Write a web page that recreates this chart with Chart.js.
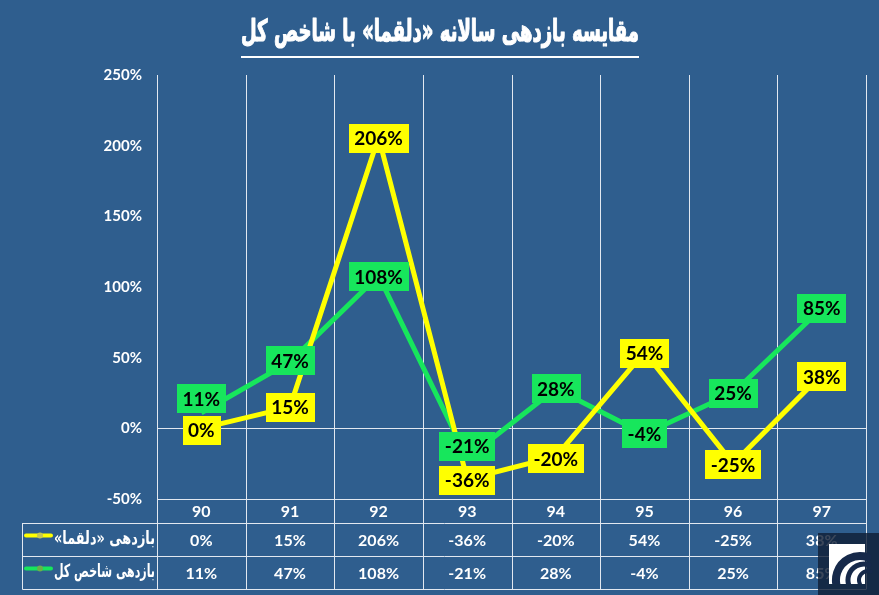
<!DOCTYPE html>
<html><head><meta charset="utf-8">
<script src="https://cdn.jsdelivr.net/npm/chart.js@4"></script>
<style>html,body{margin:0;padding:0;background:#2f5e8e;}#wrap{width:879px;height:595px;}</style>
</head><body><div id="wrap"><canvas id="c" width="879" height="595"></canvas></div>
<script>
// ---- data ----
const categories = ['90', '91', '92', '93', '94', '95', '96', '97'];
const dalgamaReturns = [0, 15, 206, -36, -20, 54, -25, 38];
const indexReturns = [11, 47, 108, -21, 28, -4, 25, 85];
const seriesNames = ['بازدهی «دلقما»', 'بازدهی شاخص کل'];
const chartTitle = 'مقایسه بازدهی سالانه «دلقما» با شاخص کل';
const yMin = -50, yMax = 250, yStep = 50;

// ---- styles ----
const BG = '#2f5e8e', GRID = '#e2e8f0', YEL = '#ffff00', GRN = '#17e65c';
const NUM = 'Lato, "Open Sans", sans-serif';
const FA = '"DejaVu Sans", sans-serif';

function colInfo(chart, i) {
  const x = chart.scales.x;
  const c = x.getPixelForValue(i);
  const w = x.getPixelForValue(1) - x.getPixelForValue(0);
  return { c, l: c - w / 2, r: c + w / 2 };
}

const excelPlugin = {
  id: 'excelLook',
  beforeDraw(chart) {
    const ctx = chart.ctx;
    ctx.save();
    ctx.fillStyle = BG;
    ctx.fillRect(0, 0, chart.width, chart.height);
    ctx.restore();
  },
  beforeDatasetsDraw(chart) {
    const ctx = chart.ctx, a = chart.chartArea, y = chart.scales.y;
    const tableBottom = a.bottom + 90;
    ctx.save();
    ctx.strokeStyle = GRID; ctx.lineWidth = 1;
    ctx.beginPath();
    for (let i = 0; i < categories.length; i++) {
      const ci = colInfo(chart, i);
      const xl = Math.round(ci.l) + 0.5;
      ctx.moveTo(xl, a.top); ctx.lineTo(xl, tableBottom);
      if (i === categories.length - 1) {
        const xr = Math.round(ci.r) + 0.5;
        ctx.moveTo(xr, a.top); ctx.lineTo(xr, tableBottom);
      }
    }
    const y0 = Math.round(y.getPixelForValue(0)) + 0.5;
    ctx.moveTo(a.left, y0); ctx.lineTo(a.right, y0);
    ctx.stroke();
    ctx.restore();
  },
  afterDatasetsDraw(chart) {
    const ctx = chart.ctx;
    ctx.save();
    ctx.font = 'bold 19px ' + NUM;
    ctx.textAlign = 'center'; ctx.textBaseline = 'middle';
    [1, 0].forEach(di => {
      const ds = chart.data.datasets[di];
      const meta = chart.getDatasetMeta(di);
      meta.data.forEach((pt, i) => {
        const txt = ds.data[i] + '%';
        const shift = (ds.labelShift && ds.labelShift[i]) || 0;
        const w = ctx.measureText(txt).width + 11, h = 29;
        const cx = pt.x, cy = pt.y + shift;
        ctx.fillStyle = ds.borderColor;
        ctx.fillRect(Math.round(cx - w / 2), Math.round(cy - h / 2), Math.round(w), h);
        ctx.fillStyle = '#000';
        ctx.fillText(txt, cx, cy + 1);
      });
    });
    ctx.restore();
  },
  afterDraw(chart) {
    const ctx = chart.ctx, a = chart.chartArea;
    const t0 = a.bottom, t1 = a.bottom + 24, t2 = t1 + 33, t3 = t2 + 33;
    const tLeft = 22;
    ctx.save();
    // table lines
    ctx.strokeStyle = GRID; ctx.lineWidth = 1;
    ctx.beginPath();
    const r = Math.round(colInfo(chart, categories.length - 1).r) + 0.5;
    ctx.moveTo(a.left, t0 + 0.5); ctx.lineTo(r, t0 + 0.5);
    [t1, t2, t3].forEach(yy => { ctx.moveTo(tLeft + 0.5, yy + 0.5); ctx.lineTo(r, yy + 0.5); });
    ctx.moveTo(tLeft + 0.5, t1); ctx.lineTo(tLeft + 0.5, t3 + 0.5);
    ctx.stroke();
    // table text
    ctx.fillStyle = '#fff';
    ctx.textAlign = 'center'; ctx.textBaseline = 'middle';
    ctx.font = 'bold 16px ' + NUM;
    const rows = [[dalgamaReturns, (t1 + t2) / 2], [indexReturns, (t2 + t3) / 2]];
    for (let i = 0; i < categories.length; i++) {
      const ci = colInfo(chart, i);
      ctx.fillText(categories[i], ci.c, (t0 + t1) / 2 + 1);
      rows.forEach(([arr, yy]) => ctx.fillText(arr[i] + '%', ci.c, yy + 1));
    }
    // row headers with legend keys
    const keyCols = [YEL, GRN];
    rows.forEach(([arr, yy], k) => {
      ctx.strokeStyle = keyCols[k]; ctx.lineWidth = 4; ctx.lineCap = 'round';
      ctx.beginPath(); ctx.moveTo(26, yy - 4); ctx.lineTo(51, yy - 4); ctx.stroke();
      ctx.fillStyle = k === 0 ? '#c8c850' : '#6ab04a';
      ctx.beginPath(); ctx.arc(40, yy - 4, 3, 0, Math.PI * 2); ctx.fill();
      ctx.fillStyle = '#fff';
      ctx.font = 'bold 18px ' + FA;
      ctx.direction = 'rtl'; ctx.textAlign = 'right';
      ctx.fillText(seriesNames[k], a.left - 2, yy, 101);
      ctx.direction = 'ltr'; ctx.textAlign = 'center';
    });
    // title
    ctx.font = 'bold 30px ' + FA;
    ctx.direction = 'rtl'; ctx.textAlign = 'center'; ctx.textBaseline = 'middle';
    ctx.fillStyle = '#fff'; ctx.strokeStyle = '#fff'; ctx.lineWidth = 1.2; ctx.lineJoin = 'round';
    const tx = 440, ty = 33, tMax = 398;
    ctx.fillText(chartTitle, tx, ty, tMax);
    ctx.strokeText(chartTitle, tx, ty, tMax);
    const tw = Math.min(ctx.measureText(chartTitle).width, tMax);
    ctx.fillRect(tx - tw / 2, 56, tw, 2);
    ctx.direction = 'ltr';
    // logo
    ctx.fillStyle = 'rgba(16,30,54,0.82)';
    ctx.fillRect(818, 533, 61, 62);
    ctx.fillStyle = '#fff';
    ctx.fillRect(829, 544, 36, 40);
    ctx.save();
    ctx.beginPath(); ctx.rect(829, 544, 44, 40); ctx.clip();
    ctx.strokeStyle = '#16294a'; ctx.lineCap = 'round';
    [[24, 8, 860, 580], [16, 5, 864, 580], [9, 4, 868, 580]].forEach(([rr, lw, cx, cy]) => {
      ctx.lineWidth = lw;
      ctx.beginPath(); ctx.arc(cx, cy, rr, Math.PI * 0.85, Math.PI * 1.6); ctx.stroke();
    });
    ctx.restore();
    ctx.restore();
  }
};

new Chart(document.getElementById('c'), {
  type: 'line',
  data: {
    labels: categories,
    datasets: [
      { label: seriesNames[0], data: dalgamaReturns, borderColor: YEL, backgroundColor: YEL,
        borderWidth: 5, pointRadius: 0, tension: 0, borderJoinStyle: 'round',
        labelShift: [2, 0, 1, 1, 2, 1, 1, 2] },
      { label: seriesNames[1], data: indexReturns, borderColor: GRN, backgroundColor: GRN,
        borderWidth: 5, pointRadius: 0, tension: 0, borderJoinStyle: 'round',
        labelShift: [-14, -1, 1, -12, 0, 0, 0, 0] }
    ]
  },
  options: {
    responsive: false, animation: false, devicePixelRatio: 1,
    layout: { padding: { top: 75, right: 13, bottom: 96, left: 0 } },
    plugins: { legend: { display: false }, tooltip: { enabled: false }, title: { display: false } },
    scales: {
      x: { display: false, offset: true },
      y: {
        min: yMin, max: yMax,
        afterFit(s) { s.width = 157; },
        grid: { display: false, drawTicks: false },
        border: { display: false },
        ticks: { stepSize: yStep, color: '#fff', padding: 15, font: { family: NUM, weight: 'bold', size: 15 },
          callback: v => v + '%' }
      }
    }
  },
  plugins: [excelPlugin]
});
</script></body></html>
